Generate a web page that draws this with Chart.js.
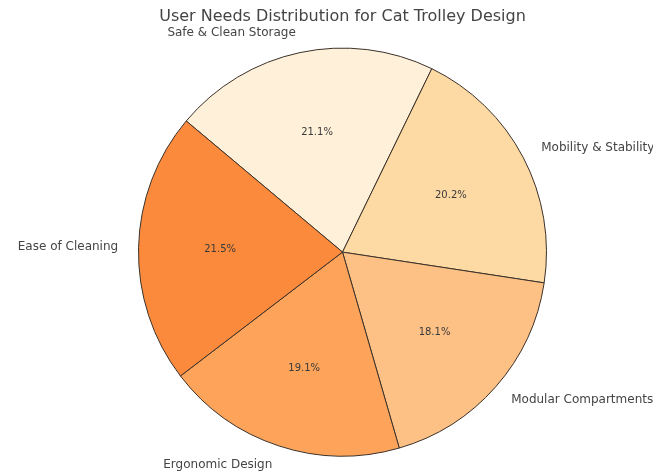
<!DOCTYPE html>
<html>
<head>
<meta charset="utf-8">
<script src="https://cdn.jsdelivr.net/npm/chart.js@4/dist/chart.umd.min.js"></script>
<style>
  html, body { margin: 0; padding: 0; background: #fff; }
  #wrap { width: 653px; height: 473px; }
</style>
</head>
<body>
<div id="wrap"><canvas id="pie"></canvas></div>
<script>
// Data (clockwise from the top-left slice)
const categories = ['Safe & Clean Storage', 'Mobility & Stability', 'Modular Compartments', 'Ergonomic Design', 'Ease of Cleaning'];
const shares = [21.1, 20.2, 18.1, 19.1, 21.5];
const sliceColors = ['#fef0d9', '#fdd9a4', '#fdc185', '#fda45a', '#fc8a3c'];

// Draws category names outside and percentages inside, like matplotlib
const sliceLabels = {
  id: 'sliceLabels',
  afterDatasetsDraw(chart) {
    const ctx = chart.ctx;
    const arcs = chart.getDatasetMeta(0).data;
    const total = shares.reduce((a, b) => a + b, 0);
    ctx.save();
    arcs.forEach((arc, i) => {
      const mid = (arc.startAngle + arc.endAngle) / 2;
      const r = arc.outerRadius;
      const cos = Math.cos(mid), sin = Math.sin(mid);

      // percentage at 0.6 radius
      ctx.font = '10px "DejaVu Sans"';
      ctx.fillStyle = '#3a3a3a';
      ctx.textAlign = 'center';
      ctx.textBaseline = 'middle';
      const pct = (shares[i] / total * 100).toFixed(1) + '%';
      ctx.fillText(pct, arc.x + cos * r * 0.6, arc.y + sin * r * 0.6);

      // category name at 1.1 radius
      ctx.font = '12px "DejaVu Sans"';
      ctx.fillStyle = '#444';
      const lx = arc.x + cos * r * 1.1;
      ctx.textAlign = lx > arc.x ? 'left' : 'right';
      ctx.fillText(categories[i], lx, arc.y + sin * r * 1.1);
    });
    ctx.restore();
  }
};

new Chart(document.getElementById('pie'), {
  type: 'pie',
  data: {
    labels: categories,
    datasets: [{
      data: shares,
      backgroundColor: sliceColors,
      borderColor: '#3b3129',
      borderWidth: 1
    }]
  },
  options: {
    responsive: true,
    maintainAspectRatio: false,
    animation: false,
    rotation: -50,
    layout: { padding: { left: 138, right: 106, bottom: 16 } },
    plugins: {
      legend: { display: false },
      tooltip: { enabled: false },
      title: {
        display: true,
        text: 'User Needs Distribution for Cat Trolley Design',
        color: '#444',
        font: { family: 'DejaVu Sans', size: 16, weight: 'normal' },
        padding: { top: 7, bottom: 21 }
      }
    }
  },
  plugins: [sliceLabels]
});
</script>
</body>
</html>
